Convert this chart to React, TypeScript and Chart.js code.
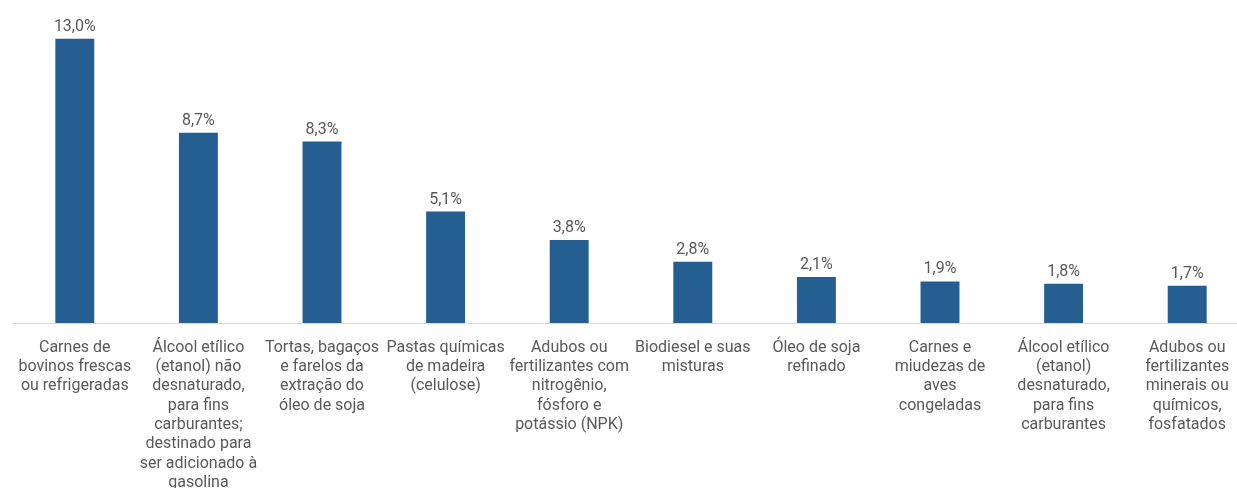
import React, { useEffect, useRef } from "react";
import { Chart, registerables } from "chart.js";

Chart.register(...registerables);

const categories: string[][] = [
  ["Carnes de", "bovinos frescas", "ou refrigeradas"],
  ["Álcool etílico", "(etanol) não", "desnaturado,", "para fins", "carburantes;", "destinado para", "ser adicionado à", "gasolina"],
  ["Tortas, bagaços", "e farelos da", "extração do", "óleo de soja"],
  ["Pastas químicas", "de madeira", "(celulose)"],
  ["Adubos ou", "fertilizantes com", "nitrogênio,", "fósforo e", "potássio (NPK)"],
  ["Biodiesel e suas", "misturas"],
  ["Óleo de soja", "refinado"],
  ["Carnes e", "miudezas de", "aves", "congeladas"],
  ["Álcool etílico", "(etanol)", "desnaturado,", "para fins", "carburantes"],
  ["Adubos ou", "fertilizantes", "minerais ou", "químicos,", "fosfatados"],
];

const shares: number[] = [13.0, 8.7, 8.3, 5.1, 3.8, 2.8, 2.1, 1.9, 1.8, 1.7];

const BAR_COLOR = "#255E91";
const TEXT_COLOR = "#595959";
const FONT = "Roboto, 'Noto Sans', sans-serif";

const valueLabels = {
  id: "valueLabels",
  afterDatasetsDraw(chart: any) {
    const ctx = chart.ctx;
    const meta = chart.getDatasetMeta(0);
    ctx.save();
    ctx.font = `16px ${FONT}`;
    ctx.fillStyle = TEXT_COLOR;
    ctx.textAlign = "center";
    ctx.textBaseline = "bottom";
    meta.data.forEach((bar: any, i: number) => {
      const v = chart.data.datasets[0].data[i] as number;
      const txt = v.toFixed(1).replace(".", ",") + "%";
      ctx.fillText(txt, bar.x, bar.y - 4);
    });
    ctx.restore();
  },
};

export default function App() {
  const ref = useRef<HTMLCanvasElement | null>(null);

  useEffect(() => {
    document.body.style.margin = "0";
    document.body.style.overflow = "hidden";
    if (!ref.current) return;
    const chart = new Chart(ref.current, {
      type: "bar",
      data: {
        labels: categories,
        datasets: [
          {
            data: shares,
            backgroundColor: BAR_COLOR,
            borderWidth: 0,
            barPercentage: 0.63,
            categoryPercentage: 0.5,
          },
        ],
      },
      plugins: [valueLabels],
      options: {
        animation: false,
        responsive: false,
        maintainAspectRatio: false,
        layout: { padding: { left: 13, right: 1, top: 17, bottom: 0 } },
        plugins: {
          legend: { display: false },
          tooltip: { enabled: false },
          title: { display: false },
        },
        scales: {
          x: {
            grid: { display: false },
            border: { display: true, color: "#D9D9D9", width: 1 },
            ticks: {
              autoSkip: false,
              maxRotation: 0,
              minRotation: 0,
              padding: 7,
              color: TEXT_COLOR,
              font: { family: FONT, size: 16, lineHeight: 1.21 },
            },
            afterFit(scale: any) {
              scale.height = 165;
            },
          },
          y: {
            display: false,
            min: 0,
            max: 14,
          },
        },
      },
    });
    return () => chart.destroy();
  }, []);

  return (
    <div style={{ width: 1237, height: 488, overflow: "hidden", background: "#fff" }}>
      <canvas ref={ref} width={1250} height={488} style={{ display: "block", width: 1250, height: 488 }} />
    </div>
  );
}
